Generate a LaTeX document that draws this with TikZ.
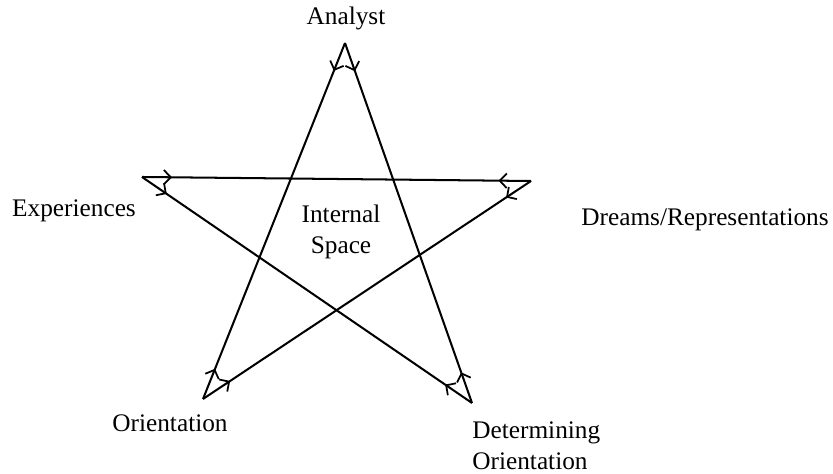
\documentclass[tikz,border=0pt]{standalone}
\usepackage{fontspec}
\setmainfont{Liberation Serif}
\usetikzlibrary{arrows.meta,decorations.markings}

\begin{document}
\begin{tikzpicture}[
    label text/.style={font=\fontsize{14.4}{17.5}\selectfont,align=center,inner sep=0pt},
    star line/.style={line width=1.15pt,postaction={decorate},
      decoration={markings,
        mark=at position 0.6cm with {\arrow{Straight Barb[length=1.4mm,width=2.9mm,line width=1pt]}},
        mark=at position -0.65cm with {\arrowreversed{Straight Barb[length=1.4mm,width=2.9mm,line width=1pt]}}}}]
  \useasboundingbox (0,0) rectangle (16.66,9.48);
  % star corners
  \coordinate (analyst) at (6.90,8.62);
  \coordinate (exper) at (2.84,5.94);
  \coordinate (dreams) at (10.62,5.86);
  \coordinate (orient) at (4.06,1.50);
  \coordinate (determ) at (9.44,1.42);
  % labels
  \node[label text] (analystlab) at (6.92,9.12) {Analyst};
  \node[label text] (experlab) at (1.48,5.26) {Experiences};
  \node[label text] (dreamslab) at (14.10,5.08) {Dreams/Representations};
  \node[label text] (orientlab) at (3.40,1.02) {Orientation};
  \node[label text,align=left,anchor=west] (determlab) at (9.44,0.56) {Determining\\Orientation};
  \node[label text] (space) at (6.82,4.84) {Internal\\Space};
  % the five strokes
  \draw[star line] (analyst) -- (orient);
  \draw[star line] (analyst) -- (determ);
  \draw[star line] (exper) -- (dreams);
  \draw[star line] (exper) -- (determ);
  \draw[star line] (dreams) -- (orient);
\end{tikzpicture}
\end{document}
